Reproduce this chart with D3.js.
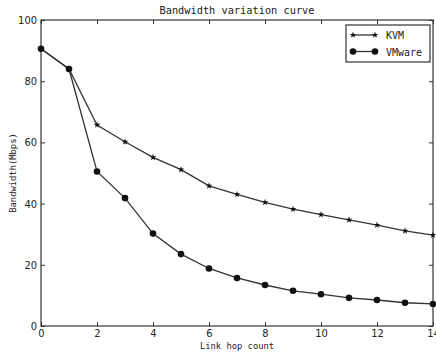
<!DOCTYPE html>
<html>
<head>
<meta charset="utf-8">
<script src="https://cdn.jsdelivr.net/npm/d3@7"></script>
<style>
  body { margin: 0; background: #fff; }
  .tick text { font-family: "Liberation Sans Narrow", "DejaVu Sans Condensed", sans-serif; font-size: 11px; fill: #222; }
  .mono { font-family: "DejaVu Sans Mono", monospace; fill: #222; }
</style>
</head>
<body>
<svg id="chart" width="436" height="352"></svg>
<script>
// hop counts and measured bandwidth (Mbps)
const hops = [0, 1, 2, 3, 4, 5, 6, 7, 8, 9, 10, 11, 12, 13, 14];
const kvm = [90.6, 84.0, 65.7, 60.2, 55.1, 51.1, 45.8, 43.0, 40.4, 38.2, 36.4, 34.7, 33.0, 31.1, 29.7];
const vmware = [90.6, 84.0, 50.5, 41.8, 30.2, 23.5, 18.8, 15.7, 13.4, 11.5, 10.4, 9.2, 8.5, 7.6, 7.2];
const xTicks = [0, 2, 4, 6, 8, 10, 12, 14];
const yTicks = [0, 20, 40, 60, 80, 100];
const seriesNames = ["KVM", "VMware"];

const plotLeft = 41, plotTop = 20, plotRight = 433, plotBottom = 326;
const svg = d3.select("#chart");

const x = d3.scaleLinear().domain([0, 14]).range([plotLeft, plotRight]);
const y = d3.scaleLinear().domain([0, 100]).range([plotBottom, plotTop]);

// axes with inward ticks on every side
function styleAxis(g) {
  g.select(".domain").remove();
  g.selectAll(".tick line").attr("stroke", "#333");
}
svg.append("g").attr("transform", "translate(0," + plotBottom + ")")
  .call(d3.axisBottom(x).tickValues(xTicks).tickSize(-4).tickPadding(3))
  .call(styleAxis);
svg.append("g").attr("transform", "translate(0," + plotTop + ")")
  .call(d3.axisTop(x).tickValues(xTicks).tickSize(-4).tickFormat(""))
  .call(styleAxis);
svg.append("g").attr("transform", "translate(" + plotLeft + ",0)")
  .call(d3.axisLeft(y).tickValues(yTicks).tickSize(-4).tickPadding(4))
  .call(styleAxis);
svg.append("g").attr("transform", "translate(" + plotRight + ",0)")
  .call(d3.axisRight(y).tickValues(yTicks).tickSize(-4).tickFormat(""))
  .call(styleAxis);

svg.append("rect")
  .attr("x", plotLeft).attr("y", plotTop)
  .attr("width", plotRight - plotLeft).attr("height", plotBottom - plotTop)
  .attr("fill", "none").attr("stroke", "#333").attr("stroke-width", 1.2);

const line = d3.line().x((d, i) => x(hops[i])).y(d => y(d));
const star = d3.symbol().type(d3.symbolStar).size(14);

svg.append("path").datum(kvm).attr("d", line)
  .attr("fill", "none").attr("stroke", "#333").attr("stroke-width", 1.3);
svg.append("path").datum(vmware).attr("d", line)
  .attr("fill", "none").attr("stroke", "#333").attr("stroke-width", 1.3);

svg.selectAll(".kvm").data(kvm).enter().append("path")
  .attr("transform", (d, i) => "translate(" + x(hops[i]) + "," + y(d) + ")")
  .attr("d", star).attr("fill", "#111");
svg.selectAll(".vm").data(vmware).enter().append("circle")
  .attr("cx", (d, i) => x(hops[i])).attr("cy", d => y(d))
  .attr("r", 3.3).attr("fill", "#111");

// title and labels
svg.append("text").attr("class", "mono")
  .attr("x", (plotLeft + plotRight) / 2).attr("y", 14)
  .attr("text-anchor", "middle").attr("font-size", 10.3)
  .text("Bandwidth variation curve");
svg.append("text").attr("class", "mono")
  .attr("x", (plotLeft + plotRight) / 2).attr("y", 349)
  .attr("text-anchor", "middle").attr("font-size", 8.8)
  .text("Link hop count");
svg.append("text").attr("class", "mono")
  .attr("transform", "translate(16," + ((plotTop + plotBottom) / 2) + ")rotate(-90)")
  .attr("text-anchor", "middle").attr("font-size", 8.8)
  .text("Bandwidth(Mbps)");

// legend
const lg = svg.append("g");
lg.append("rect").attr("x", 346).attr("y", 25).attr("width", 84).attr("height", 37)
  .attr("fill", "#fff").attr("stroke", "#333").attr("stroke-width", 1.2);
seriesNames.forEach((name, i) => {
  const ly = 35 + i * 16.5;
  lg.append("line").attr("x1", 353).attr("x2", 375).attr("y1", ly).attr("y2", ly)
    .attr("stroke", "#333").attr("stroke-width", 1.3);
  [353, 375].forEach(mx => {
    if (i === 0) {
      lg.append("path").attr("transform", "translate(" + mx + "," + ly + ")")
        .attr("d", star).attr("fill", "#111");
    } else {
      lg.append("circle").attr("cx", mx).attr("cy", ly).attr("r", 3.3).attr("fill", "#111");
    }
  });
  lg.append("text").attr("class", "mono").attr("x", 386).attr("y", ly + 4)
    .attr("font-size", 10).text(name);
});
</script>
</body>
</html>
